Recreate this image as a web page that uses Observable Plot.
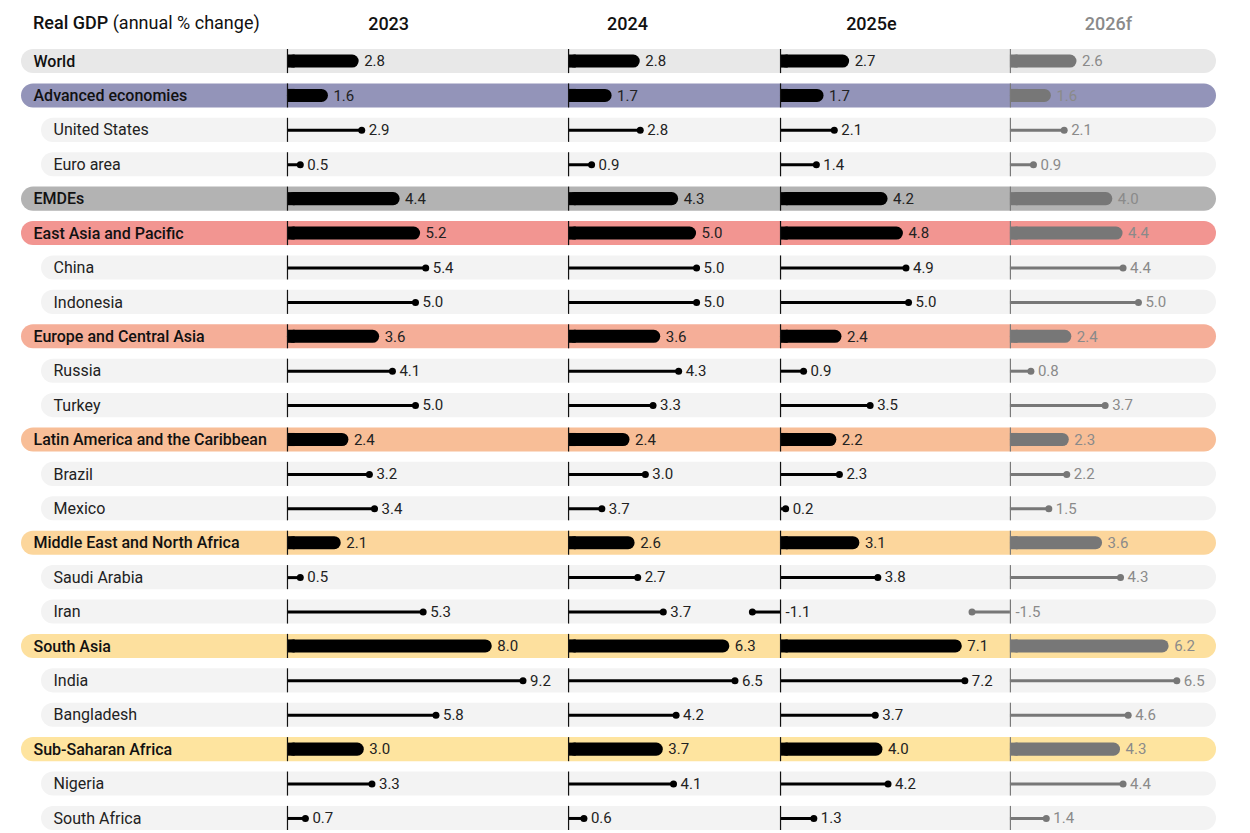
<!DOCTYPE html>
<html>
<head>
<meta charset="utf-8">
<script src="https://cdn.jsdelivr.net/npm/d3@7"></script>
<script src="https://cdn.jsdelivr.net/npm/@observablehq/plot@0.6"></script>
<style>
  body { margin: 0; background: #fff; font-family: Roboto, "Noto Sans", sans-serif; }
  #wrap { position: relative; width: 1250px; height: 833px; }
  #title { position: absolute; left: 33px; top: 11px; font-size: 18px; color: #111; line-height: 24px; }
  #title b { font-weight: 500; }
</style>
</head>
<body>
<div id="wrap">
  <div id="chart"></div>
  <div id="title"><b>Real GDP</b> (annual % change)</div>
</div>
<script>
// ---------------- data ----------------
const rows = [
  "World", "Advanced economies", "United States", "Euro area", "EMDEs",
  "East Asia and Pacific", "China", "Indonesia",
  "Europe and Central Asia", "Russia", "Turkey",
  "Latin America and the Caribbean", "Brazil", "Mexico",
  "Middle East and North Africa", "Saudi Arabia", "Iran",
  "South Asia", "India", "Bangladesh",
  "Sub-Saharan Africa", "Nigeria", "South Africa"
];
const isGroup = [
  true, true, false, false, true,
  true, false, false,
  true, false, false,
  true, false, false,
  true, false, false,
  true, false, false,
  true, false, false
];
const years = ["2023", "2024", "2025e", "2026f"];
const v2023 = [2.8, 1.6, 2.9, 0.5, 4.4, 5.2, 5.4, 5.0, 3.6, 4.1, 5.0, 2.4, 3.2, 3.4, 2.1, 0.5, 5.3, 8.0, 9.2, 5.8, 3.0, 3.3, 0.7];
const v2024 = [2.8, 1.7, 2.8, 0.9, 4.3, 5.0, 5.0, 5.0, 3.6, 4.3, 3.3, 2.4, 3.0, 1.3, 2.6, 2.7, 3.7, 6.3, 6.5, 4.2, 3.7, 4.1, 0.6];
const v2025 = [2.7, 1.7, 2.1, 1.4, 4.2, 4.8, 4.9, 5.0, 2.4, 0.9, 3.5, 2.2, 2.3, 0.2, 3.1, 3.8, -1.1, 7.1, 7.2, 3.7, 4.0, 4.2, 1.3];
const v2026 = [2.6, 1.6, 2.1, 0.9, 4.0, 4.4, 4.4, 5.0, 2.4, 0.8, 3.7, 2.3, 2.2, 1.5, 3.6, 4.3, -1.5, 6.2, 6.5, 4.6, 4.3, 4.4, 1.4];
// printed label that differs from the drawn length in the original
const labelOverrides = { "Mexico|2024": "3.7" };

// ---------------- styles / layout ----------------
const groupColors = {
  "World": "#e8e8e8",
  "Advanced economies": "#9394b9",
  "EMDEs": "#b3b3b3",
  "East Asia and Pacific": "#f29591",
  "Europe and Central Asia": "#f5ae98",
  "Latin America and the Caribbean": "#f8be97",
  "Middle East and North Africa": "#fcd69c",
  "South Asia": "#fde09e",
  "Sub-Saharan Africa": "#fee49f"
};
const subFill = "#f3f3f3";
const colZero = [0, 10.98, 19.26, 28.24];   // column baselines (x units)
const headerPos = [3.95, 2.3, 3.55, 3.83];  // header centre relative to baseline
const XMIN = -10.39, XMAX = 36.29;
const inkColor = j => j === 3 ? "#777777" : "#000000";
const textColor = j => j === 3 ? "#8a8a8a" : "#222222";

const series = [v2023, v2024, v2025, v2026];
const rowData = rows.map((r, i) => ({row: r, group: isGroup[i]}));
const long = [];
rows.forEach((r, i) => years.forEach((y, j) => {
  const v = series[j][i];
  long.push({row: r, group: isGroup[i], year: y, j, value: v, zero: colZero[j],
             label: labelOverrides[r + "|" + y] ?? v.toFixed(1)});
}));
const G = long.filter(d => d.group);
const S = long.filter(d => !d.group);

const chart = Plot.plot({
  width: 1250,
  height: 833,
  marginLeft: 21,
  marginRight: 34,
  marginTop: 49,
  marginBottom: 3,
  style: {fontFamily: "Roboto, 'Noto Sans', sans-serif", background: "#fff"},
  x: {domain: [XMIN, XMAX], axis: null},
  y: {domain: rows, paddingInner: 0.3, paddingOuter: 0, round: false, axis: null},
  color: {type: "identity"},
  marks: [
    // row pills
    Plot.barX(rowData.filter(d => d.group), {x1: XMIN, x2: XMAX, y: "row", fill: d => groupColors[d.row], rx: 12}),
    Plot.barX(rowData.filter(d => !d.group), {x1: XMIN, x2: XMAX, y: "row", fill: subFill, rx: 12, insetLeft: 20}),
    // group bars (rounded right end)
    Plot.barX(G, {x1: "zero", x2: d => d.zero + d.value, y: "row", fill: d => inkColor(d.j), rx: 6.5, insetTop: 5.5, insetBottom: 5.5}),
    Plot.barX(G, {x1: "zero", x2: d => d.zero + Math.min(d.value, 0.3), y: "row", fill: d => inkColor(d.j), insetTop: 5.5, insetBottom: 5.5}),
    // sub-row lollipops
    Plot.ruleY(S, {y: "row", x1: "zero", x2: d => d.zero + d.value, stroke: d => inkColor(d.j), strokeWidth: 3}),
    Plot.dot(S, {x: d => d.zero + d.value, y: "row", r: 3.5, fill: d => inkColor(d.j), stroke: null}),
    // baselines
    Plot.tickX(long, {x: "zero", y: "row", stroke: d => d.j === 3 ? "#7a7a7a" : "#111", strokeWidth: 1.2}),
    // value labels
    Plot.text(G, {x: d => d.zero + d.value, y: "row", text: "label", textAnchor: "start", dx: 5, fontSize: 15, fill: d => textColor(d.j)}),
    Plot.text(S.filter(d => d.value >= 0), {x: d => d.zero + d.value, y: "row", text: "label", textAnchor: "start", dx: 7, fontSize: 15, fill: d => textColor(d.j)}),
    Plot.text(S.filter(d => d.value < 0), {x: "zero", y: "row", text: "label", textAnchor: "start", dx: 5, fontSize: 15, fill: d => textColor(d.j)}),
    // row labels
    Plot.text(rowData.filter(d => d.group), {y: "row", text: "row", frameAnchor: "left", textAnchor: "start", dx: 12, fontSize: 16, fontWeight: 500, fill: "#111"}),
    Plot.text(rowData.filter(d => !d.group), {y: "row", text: "row", frameAnchor: "left", textAnchor: "start", dx: 32, fontSize: 16, fill: "#222"}),
    // column headers
    Plot.text(years, {x: (d, i) => colZero[i] + headerPos[i], frameAnchor: "top", dy: -32, text: d => d, fontSize: 18, fontWeight: 500, fill: (d, i) => i === 3 ? "#8a8a8a" : "#111"})
  ]
});
document.getElementById("chart").appendChild(chart);
</script>
</body>
</html>
